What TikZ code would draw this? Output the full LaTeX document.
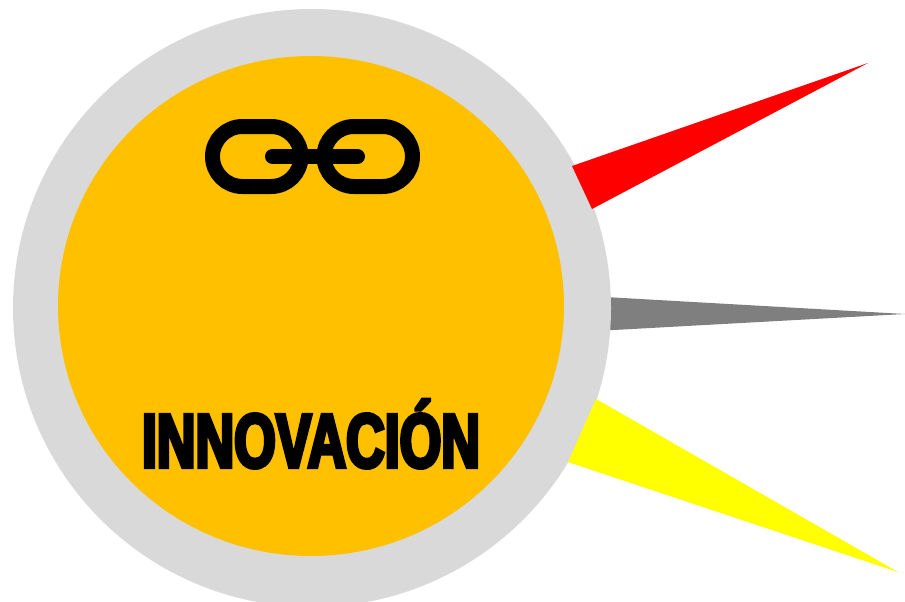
\documentclass[tikz,border=0pt]{standalone}
\usepackage{fontspec}
\setmainfont{Liberation Sans}
\newfontfamily\heavyfont[FakeStretch=0.695,FakeBold=4.5]{Liberation Sans Bold}
\usepackage{xcolor}
\usetikzlibrary{shapes.geometric}
\definecolor{ringgray}{HTML}{D9D9D9}
\definecolor{discgold}{HTML}{FFC000}
\definecolor{spikegray}{HTML}{7F7F7F}
\definecolor{spikeyellow}{HTML}{FFFF00}
\definecolor{spikered}{HTML}{FF0000}
\tikzset{
	spike/.style={draw=none},
	linkpart/.style={draw=black, line width=15pt, line cap=round, rounded corners=30pt, minimum width=88.5pt, minimum height=60pt, inner sep=0},
	linkbar/.style={draw=black, line width=15pt, line cap=round},
	titletext/.style={inner sep=0, anchor=base, font=\heavyfont\fontsize{77}{77}\selectfont}
}
\begin{document}
\begin{tikzpicture}[x=1pt,y=-1pt]
	\useasboundingbox (0,0) rectangle (905,602);
	% spikes
	\fill[spike, spikegray] (605,297) -- (905,314) -- (605,330.5) -- cycle;
	% discs
	\node[circle, fill=ringgray, minimum size=598pt, inner sep=0] (ring) at (312,308) {};
	\node[ellipse, fill=discgold, minimum width=506pt, minimum height=500pt, inner sep=0] (disc) at (311,306) {};
	% spikes over the ring
	\fill[spike, spikered] (572,166) -- (868,63) -- (592,209) -- cycle;
	\fill[spike, spikeyellow] (596,399) -- (898,572) -- (568,462) -- cycle;
	% chain
	\node[linkpart] (leftlink) at (256.75,156.5) {};
	\node[linkpart] (rightlink) at (368.25,156.5) {};
	\coordinate (barleft) at (272.5,156.5);
	\coordinate (barright) at (357.5,156.5);
	\draw[linkbar] (barleft) -- (barright);
	\node[titletext] (title) at (311,467.5) {INNOVACIÓN};
\end{tikzpicture}
\end{document}
